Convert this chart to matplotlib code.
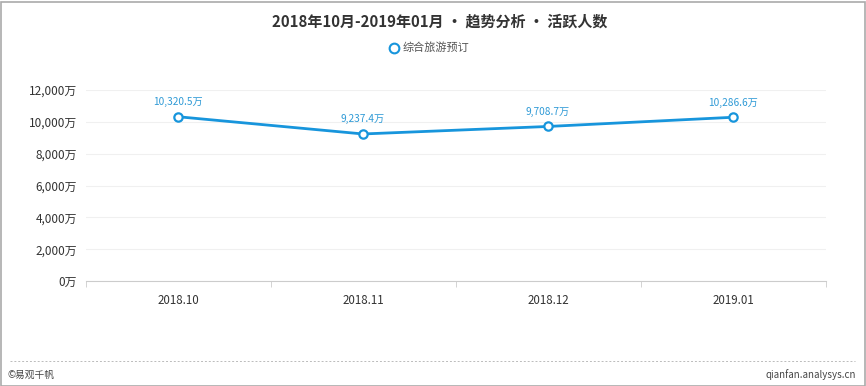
import matplotlib
matplotlib.use('Agg')
import matplotlib.pyplot as plt
from matplotlib.patches import Rectangle
from matplotlib.lines import Line2D

plt.rcParams['font.family'] = ['Noto Sans CJK SC', 'DejaVu Sans']

months = ['2018.10', '2018.11', '2018.12', '2019.01']
active_users = [10320.5, 9237.4, 9708.7, 10286.6]
yticks = [0, 2000, 4000, 6000, 8000, 10000, 12000]
series_name = '综合旅游预订'
title = '2018年10月-2019年01月 • 趋势分析 • 活跃人数'

blue = '#1795dc'
W, H = 866, 386
fig = plt.figure(figsize=(W / 100, H / 100), dpi=100)

# axes in pixel coords: x 85.5..825.5, y 90..281
ax = fig.add_axes([85.5 / W, 1 - 281 / H, 740 / W, 191 / H])
x = list(range(len(months)))
ax.plot(x, active_users, color=blue, lw=2, marker='o', ms=6,
        mfc='white', mec=blue, mew=1.6, zorder=3)
for xi, v in zip(x, active_users):
    ax.annotate(f'{v:,.1f}万', (xi, v), xytext=(0, 7), textcoords='offset points',
                ha='center', va='bottom', fontsize=7.3, color='#2f9ad6')

ax.set_xlim(-0.5, len(months) - 0.5)
ax.set_ylim(0, 12000)
ax.set_yticks(yticks)
ax.set_yticklabels([f'{t:,}万' for t in yticks], fontsize=8.5, color='#333333')
ax.set_xticks(x)
ax.set_xticklabels(months, fontsize=8.3, color='#333333')
ax.tick_params(axis='y', length=0, pad=6)
ax.tick_params(axis='x', length=0, pad=9)
# boundary ticks on the category axis
ax.set_xticks([i - 0.5 for i in range(len(months) + 1)], minor=True)
ax.tick_params(axis='x', which='minor', length=4, color='#cccccc')
ax.grid(axis='y', color='#f0f0f0', lw=0.8)
for s in ['top', 'right', 'left']:
    ax.spines[s].set_visible(False)
ax.spines['bottom'].set_color('#cccccc')
ax.set_axisbelow(True)

fig.text(440 / W, 1 - 22 / H, title, ha='center', va='center', fontsize=10.8,
         fontweight='bold', color='#333333')

# legend
fig.add_artist(Line2D([394 / W], [1 - 48 / H], marker='o', ms=7, mfc='white',
                      mec=blue, mew=1.5, ls='none'))
fig.text(403 / W, 1 - 48 / H, series_name, ha='left', va='center',
         fontsize=8, color='#555555')

# footer
fig.add_artist(Line2D([10 / W, 855 / W], [1 - 361 / H] * 2, color='#bbbbbb',
                      lw=0.7, ls=(0, (2, 2))))
fig.text(8 / W, 1 - 375 / H, '©易观千帆', ha='left', va='center', fontsize=7,
         color='#444444')
fig.text(856 / W, 1 - 375 / H, 'qianfan.analysys.cn', ha='right', va='center',
         fontsize=7, color='#444444')

# outer frame
fig.add_artist(Rectangle((0.5 / W, 0.5 / H), (W - 2) / W, (H - 2) / H,
                         transform=fig.transFigure, fill=False,
                         ec='#aaaaaa', lw=1.2))

fig.savefig('out.png', dpi=100)
